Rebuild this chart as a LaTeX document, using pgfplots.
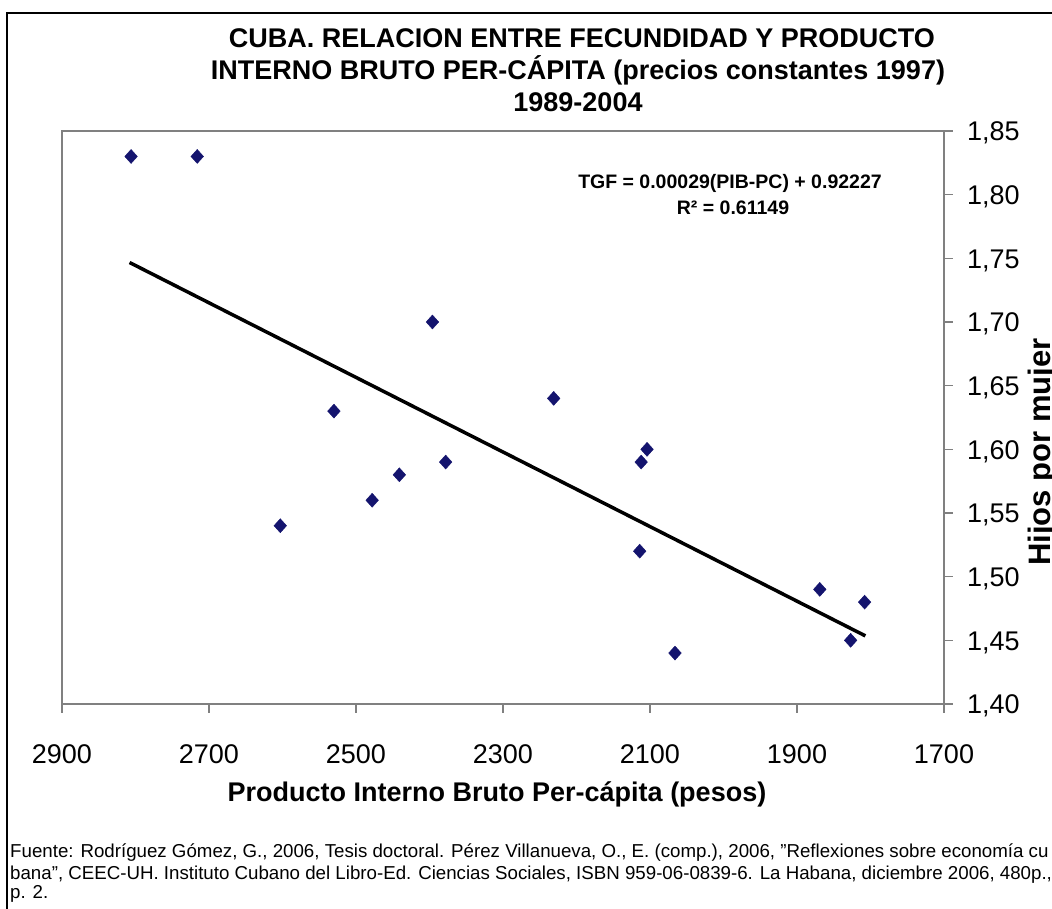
\documentclass[border=0pt]{standalone}
\usepackage{fontspec}
\setmainfont{Liberation Sans}
\usepackage{pgfplots}
\pgfplotsset{compat=1.18}
\definecolor{axgray}{RGB}{128,128,128}
\definecolor{navy}{RGB}{20,20,110}
\pgfplotstableread{
x y
2806 1.83
2716 1.83
2603 1.54
2530 1.63
2478 1.56
2441 1.58
2396 1.70
2378 1.59
2231 1.64
2104 1.60
2112 1.59
2114 1.52
2066 1.44
1869 1.49
1827 1.45
1808 1.48
}\datatable
\begin{document}
\begin{tikzpicture}
\useasboundingbox (0pt,0pt) rectangle (1052pt,909pt);
\fill[white] (0pt,0pt) rectangle (1052pt,909pt);
\clip (0pt,0pt) rectangle (1052pt,909pt);
\draw[line width=2.5pt] (7pt,-5pt) -- (7pt,896pt) -- (1060pt,896pt);
% title
\node[anchor=base, font=\fontsize{27}{27}\selectfont\bfseries] at (582pt,861pt) {CUBA. RELACION ENTRE FECUNDIDAD Y PRODUCTO};
\node[anchor=base, font=\fontsize{27}{27}\selectfont\bfseries] at (578pt,829pt) {INTERNO BRUTO PER-CÁPITA (precios constantes 1997)};
\node[anchor=base, font=\fontsize{27}{27}\selectfont\bfseries] at (578pt,797pt) {1989-2004};
\begin{axis}[
  at={(62pt,205pt)}, anchor=south west, scale only axis,
  width=882pt, height=573pt,
  x dir=reverse, xmin=1700, xmax=2900, ymin=1.40, ymax=1.85,
  xtick={1700,1900,2100,2300,2500,2700,2900},
  ytick={1.40,1.45,1.50,1.55,1.60,1.65,1.70,1.75,1.80,1.85},
  axis line style={axgray, line width=1.3pt},
  every tick/.style={axgray, line width=1.3pt},
  tick align=outside, major tick length=9pt,
  xtick pos=left, ytick pos=right, yticklabel pos=right,
  /pgf/number format/assume math mode=true,
  xticklabel style={font=\fontsize{27}{27}\selectfont, anchor=base, inner sep=0pt, yshift=-51pt},
  yticklabel style={font=\fontsize{27}{27}\selectfont, anchor=base west, inner sep=0pt, xshift=14pt, yshift=-9.7pt},
  xticklabel={\pgfmathprintnumber[1000 sep={}]{\tick}},
  yticklabel={\pgfmathprintnumber[use comma, fixed, fixed zerofill, precision=2]{\tick}},
  clip=false,
]
\addplot[only marks, mark=diamond*, mark size=7pt, mark options={fill=navy, draw=navy, xscale=1.2}] table[x=x,y=y] {\datatable};
\addplot[black, line width=3.5pt] coordinates {(2808,1.7467) (1807,1.4535)};
\end{axis}
% equation
\node[anchor=base, font=\fontsize{19.5}{19.5}\selectfont\bfseries] at (730pt,720pt) {TGF = 0.00029(PIB-PC) + 0.92227};
\node[anchor=base, font=\fontsize{19.5}{19.5}\selectfont\bfseries] at (733pt,694pt) {R² = 0.61149};
% axis titles
\node[anchor=base, font=\fontsize{27}{27}\selectfont\bfseries] at (497pt,107pt) {Producto Interno Bruto Per-cápita (pesos)};
\node[anchor=base, rotate=90, font=\fontsize{31}{31}\selectfont\bfseries] at (1050pt,457pt) {Hijos por mujer};
% footnote
\node[anchor=base west, inner sep=0pt, font=\fontsize{18.7}{20.5}\selectfont] at (10pt,51pt) {Fuente: Rodríguez Gómez, G., 2006, Tesis doctoral. Pérez Villanueva, O., E. (comp.), 2006, \symbol{34}Reflexiones sobre economía cu};
\node[anchor=base west, inner sep=0pt, font=\fontsize{18.7}{20.5}\selectfont] at (10pt,29pt) {bana\symbol{34}, CEEC-UH. Instituto Cubano del Libro-Ed. Ciencias Sociales, ISBN 959-06-0839-6. La Habana, diciembre 2006, 480p.,};
\node[anchor=base west, inner sep=0pt, font=\fontsize{18.7}{20.5}\selectfont] at (10pt,10pt) {p. 2.};
\end{tikzpicture}
\end{document}
